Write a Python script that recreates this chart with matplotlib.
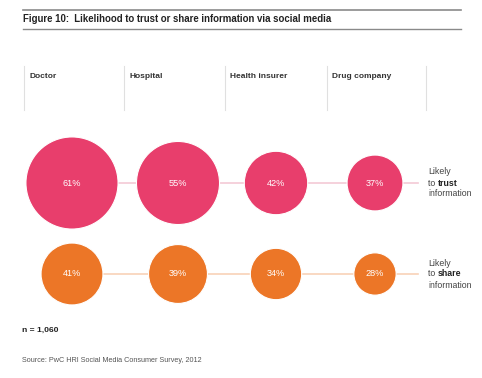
import matplotlib.pyplot as plt
from matplotlib.patches import Circle

categories = ["Doctor", "Hospital", "Health insurer", "Drug company"]
trust = [61, 55, 42, 37]
share = [41, 39, 34, 28]
row_labels = [("Likely", "to ", "trust", "information"),
              ("Likely", "to ", "share", "information")]

pink = "#E83E6C"
orange = "#EC7627"
pink_line = "#F3C9D5"
orange_line = "#F8D2B8"

plt.rcParams["font.family"] = ["Liberation Sans", "DejaVu Sans"]

fig = plt.figure(figsize=(4.82, 3.78), dpi=100)
ax = fig.add_axes([0, 0, 1, 1])
ax.set_xlim(0, 482)
ax.set_ylim(378, 0)
ax.set_aspect("equal")
ax.axis("off")

# header
ax.plot([23, 461], [10, 10], color="#8a8a8a", lw=1.2)
ax.plot([23, 461], [29, 29], color="#8a8a8a", lw=1.0)
ax.text(23, 19.5, "Figure 10:  Likelihood to trust or share information via social media",
        fontsize=6.9, fontweight="bold", va="center", ha="left", color="#222222")

col_x = [72, 178, 276, 375]
sep_x = [24, 124, 225, 327, 426]
for x in sep_x:
    ax.plot([x, x], [66, 110], color="#e0e0e0", lw=0.8)
for x, name in zip(sep_x, categories):
    ax.text(x + 5, 77, name, fontsize=6.0, fontweight="bold", va="center",
            ha="left", color="#333333")

k = 0.755
rows = [(183, trust, pink, pink_line), (274, share, orange, orange_line)]
for (y, vals, col, lcol), lab in zip(rows, row_labels):
    ax.plot([col_x[0], 418], [y, y], color=lcol, lw=1.2, zorder=1)
    for x, v in zip(col_x, vals):
        ax.add_patch(Circle((x, y), k * v, facecolor=col, edgecolor="white",
                            lw=0.8, zorder=2))
        ax.text(x, y, f"{v}%", fontsize=6.6, color="white", ha="center",
                va="center", zorder=3)
    ax.text(428, y - 11, lab[0], fontsize=6.3, color="#444444", va="center")
    ax.text(428, y, lab[1], fontsize=6.3, color="#444444", va="center")
    ax.text(437.5, y, lab[2], fontsize=6.3, color="#222222", fontweight="bold",
            va="center")
    ax.text(428, y + 11, lab[3], fontsize=6.3, color="#444444", va="center")

ax.text(22, 330, "n = 1,060", fontsize=6.1, fontweight="bold", va="center",
        color="#222222")
ax.text(22, 361, "Source: PwC HRI Social Media Consumer Survey, 2012",
        fontsize=5.25, va="center", color="#555555")

fig.savefig("out.png", dpi=100)
